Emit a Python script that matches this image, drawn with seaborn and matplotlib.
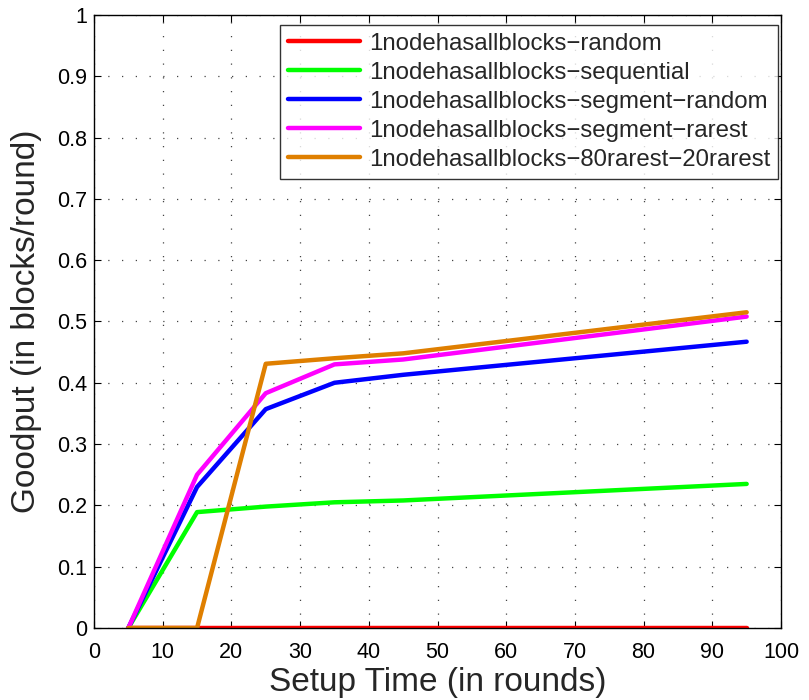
import numpy as np
import pandas as pd
import matplotlib
matplotlib.use("Agg")
import matplotlib.pyplot as plt
import seaborn as sns

setup_time = [5, 15, 25, 35, 45, 95]

series_names = [
    "1nodehasallblocks\u2212random",
    "1nodehasallblocks\u2212sequential",
    "1nodehasallblocks\u2212segment\u2212random",
    "1nodehasallblocks\u2212segment\u2212rarest",
    "1nodehasallblocks\u221280rarest\u221220rarest",
]

goodput_random = [0.0, 0.0, 0.0, 0.0, 0.0, 0.0]
goodput_sequential = [0.0, 0.189, 0.198, 0.205, 0.208, 0.235]
goodput_segment_random = [0.0, 0.230, 0.357, 0.400, 0.413, 0.467]
goodput_segment_rarest = [0.0, 0.250, 0.383, 0.430, 0.438, 0.508]
goodput_80_20 = [0.0, 0.0, 0.431, 0.440, 0.448, 0.515]

colors = ["#ff0000", "#00ff00", "#0000ff", "#ff00ff", "#df7f00"]

frames = []
for name, vals in zip(series_names, [goodput_random, goodput_sequential,
                                     goodput_segment_random, goodput_segment_rarest,
                                     goodput_80_20]):
    frames.append(pd.DataFrame({"setup": setup_time, "goodput": vals, "series": name}))
df = pd.concat(frames, ignore_index=True)

sns.set_style("white")
plt.rcParams["font.family"] = ["Liberation Sans", "DejaVu Sans"]

fig = plt.figure(figsize=(8.09, 7.0), dpi=100)
ax = fig.add_axes([0.1162, 0.1029, 0.8492, 0.8757])

sns.lineplot(data=df, x="setup", y="goodput", hue="series", hue_order=series_names,
             palette=colors, linewidth=3.2, ax=ax, sort=False, estimator=None)

ax.set_xlim(0, 100)
ax.set_ylim(0, 1)
ax.set_xticks(np.arange(0, 101, 10))
ax.set_yticks(np.round(np.arange(0, 1.01, 0.1), 1))
ax.set_yticklabels(["0"] + [f"{v:.1f}" for v in np.arange(0.1, 0.95, 0.1)] + ["1"])
ax.tick_params(direction="in", length=5, width=0.8, labelsize=15.5, colors="black",
               top=True, right=True, bottom=True, left=True)
ax.tick_params(axis="x", pad=10)
ax.tick_params(axis="y", pad=5)
ax.grid(True, linestyle=(0, (1, 10)), color="#444444", linewidth=0.9)
for s in ax.spines.values():
    s.set_color("black")
    s.set_linewidth(1.0)

ax.set_xlabel("Setup Time (in rounds)", fontsize=24, labelpad=3)
ax.set_ylabel("Goodput (in blocks/round)", fontsize=24, labelpad=11)

leg = ax.legend(loc="upper right", bbox_to_anchor=(0.9956, 0.984), fontsize=17.3,
                frameon=True, fancybox=False, edgecolor="black", handlelength=3.0,
                borderaxespad=0.0, labelspacing=0.29, handletextpad=0.38,
                borderpad=0.33)
leg.get_frame().set_linewidth(1.0)
for line in leg.get_lines():
    line.set_linewidth(3.2)

fig.savefig("out.png", dpi=100)
